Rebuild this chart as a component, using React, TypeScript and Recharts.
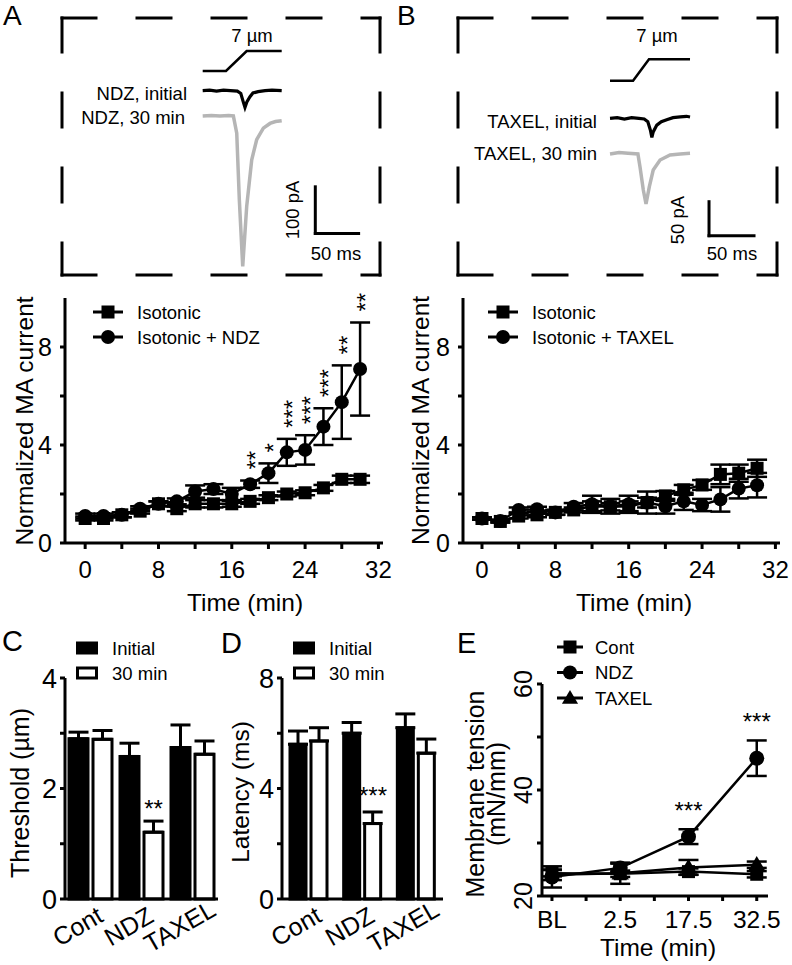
import React from 'react';
import {
  LineChart,
  Line,
  XAxis,
  YAxis,
  ErrorBar,
  LabelList,
  Legend,
  ReferenceLine,
  ComposedChart,
  Bar,
} from 'recharts';

const FONT = '"Liberation Sans", Arial, Helvetica, sans-serif';
const INK = '#000';
const GREY = '#b5b5b5';

// ---- A/B example traces (ms vs µm / pA) ----
const stimA_t = [0, 26.9, 50.8, 91.2];
const stimA_um = [0, 0, 7, 7];
const ndzInit_t = [0, 8, 16, 24, 32, 40, 44, 47, 48.8, 51, 54.6, 58, 64, 72, 80, 91.2];
const ndzInit_pA = [0, 1, -1, 1, 0, -1, -6, -25, -35.7, -24, -13, -5, -2, 0, 1, 0];
const ndz30_t = [0, 10, 20, 30, 35.4, 39.3, 42.3, 46.2, 50.8, 56.6, 62.3, 70, 77.7, 84, 91.2];
const ndz30_pA = [0, 1, 0, 1, 0, -37, -180, -323, -194, -94, -51, -26, -16, -12, -10];

const stimB_t = [0, 25.6, 43.3, 88.9];
const stimB_um = [0, 0, 7, 7];
const taxInit_t = [0, 8, 16, 24, 32, 38, 42, 45, 46.5, 48, 52, 57, 63, 70, 78, 85, 88.9];
const taxInit_pA = [0, 1, -1, 1, 0, -1, -5, -18, -28, -20, -10, -5, -2, 1, 2, 3, 2];
const tax30_t = [0, 10, 20, 31, 33.3, 37, 40, 43.7, 48, 55.6, 66.7, 78, 88.9];
const tax30_pA = [-1, 1, 0, -1, -19.7, -54, -74.6, -49, -24.6, -9.9, -2.5, -1, 0];

// ---- A/B time course ----
const minutes = [0, 2, 4, 6, 8, 10, 12, 14, 16, 18, 20, 22, 24, 26, 28, 30];
const isoA = [1.0, 1.0, 1.15, 1.3, 1.6, 1.4, 1.6, 1.6, 1.6, 1.7, 1.85, 2.0, 2.05, 2.25, 2.6, 2.6];
const isoAErr = [0.08, 0.08, 0.1, 0.1, 0.1, 0.1, 0.15, 0.15, 0.12, 0.1, 0.1, 0.1, 0.1, 0.12, 0.15, 0.15];
const ndzA = [1.1, 1.1, 1.15, 1.4, 1.6, 1.7, 2.1, 2.2, 2.0, 2.4, 2.85, 3.7, 3.8, 4.75, 5.75, 7.1];
const ndzAErr = [0.1, 0.1, 0.1, 0.1, 0.1, 0.12, 0.25, 0.2, 0.25, 0.15, 0.4, 0.55, 0.6, 0.75, 1.5, 1.9];
const sigA = ['', '', '', '', '', '', '', '', '', '**', '*', '***', '***', '***', '**', '**'];

const isoB = [1.0, 0.88, 1.1, 1.15, 1.25, 1.35, 1.5, 1.48, 1.5, 1.65, 1.92, 2.17, 2.37, 2.8, 2.85, 3.05];
const isoBErr = [0.05, 0.05, 0.1, 0.1, 0.1, 0.1, 0.2, 0.15, 0.2, 0.2, 0.2, 0.2, 0.2, 0.4, 0.35, 0.35];
const taxB = [1.0, 0.9, 1.35, 1.38, 1.25, 1.48, 1.58, 1.5, 1.58, 1.65, 1.5, 1.7, 1.55, 1.78, 2.22, 2.36];
const taxBErr = [0.05, 0.05, 0.1, 0.1, 0.1, 0.15, 0.35, 0.3, 0.35, 0.45, 0.3, 0.35, 0.25, 0.5, 0.4, 0.5];
const sigB = minutes.map(() => '');

// ---- C/D bars ----
const groups = ['Cont', 'NDZ', 'TAXEL'];
const thrInit = [2.9, 2.58, 2.74];
const thrInitErr = [0.12, 0.24, 0.41];
const thr30 = [2.89, 1.21, 2.62];
const thr30Err = [0.16, 0.2, 0.24];
const sigC = ['', '**', ''];
const latInit = [5.6, 6.0, 6.2];
const latInitErr = [0.48, 0.39, 0.5];
const lat30 = [5.72, 2.73, 5.28];
const lat30Err = [0.48, 0.42, 0.51];
const sigD = ['', '***', ''];

// ---- E membrane tension ----
const timeE = ['BL', '2.5', '17.5', '32.5'];
const contE = [24.3, 24.2, 24.6, 24.1];
const contEErr = [0.6, 0.6, 0.6, 0.6];
const ndzE = [23.6, 25.3, 31.2, 46.0];
const ndzEErr = [2.0, 0.8, 1.4, 3.35];
const taxE = [24.0, 24.3, 25.4, 25.9];
const taxEErr = [1.0, 2.0, 1.4, 0.6];
const sigE = ['', '', '***', '***'];

const pairs = (t: number[], v: number[]) => t.map((x, i) => ({ t: x, v: v[i] }));

const courseA = minutes.map((t, i) => ({
  t, iso: isoA[i], isoErr: isoAErr[i], trt: ndzA[i], trtErr: ndzAErr[i],
  top: ndzA[i] + ndzAErr[i], sig: sigA[i],
}));
const courseB = minutes.map((t, i) => ({
  t, iso: isoB[i], isoErr: isoBErr[i], trt: taxB[i], trtErr: taxBErr[i],
  top: taxB[i] + taxBErr[i], sig: sigB[i],
}));
const barsC = groups.map((g, i) => ({
  g, init: thrInit[i], initErr: [0, thrInitErr[i]], late: thr30[i], lateErr: [0, thr30Err[i]],
  top: thr30[i] + thr30Err[i], sig: sigC[i],
}));
const barsD = groups.map((g, i) => ({
  g, init: latInit[i], initErr: [0, latInitErr[i]], late: lat30[i], lateErr: [0, lat30Err[i]],
  top: lat30[i] + lat30Err[i], sig: sigD[i],
}));
const tensionE = timeE.map((_, i) => ({
  x: i, cont: contE[i], contErr: contEErr[i], ndz: ndzE[i], ndzErr: ndzEErr[i],
  tax: taxE[i], taxErr: taxEErr[i], top: ndzE[i] + ndzEErr[i], sig: sigE[i],
}));

const axisStyle = { stroke: INK, strokeWidth: 3 };

type Mark = 'square' | 'circle' | 'triangle' | 'solid' | 'open';

function drawMark(kind: Mark, cx: number, cy: number, s: number, key?: any) {
  if (kind === 'circle') return <circle key={key} cx={cx} cy={cy} r={s / 2} fill={INK} />;
  if (kind === 'triangle')
    return (
      <polygon
        key={key}
        points={`${cx},${cy - s * 0.62} ${cx + s * 0.62},${cy + s * 0.45} ${cx - s * 0.62},${cy + s * 0.45}`}
        fill={INK}
      />
    );
  return <rect key={key} x={cx - s / 2} y={cy - s / 2} width={s} height={s} fill={INK} />;
}

const dotOf = (kind: Mark, s: number) => (p: any) => {
  if (p.cx == null || p.cy == null) return <g key={p.index} />;
  return drawMark(kind, p.cx, p.cy, s, `${kind}-${p.index}`);
};

const legendBox = (rows: { label: string; mark: Mark }[], lineW: number, textX: number, gap = 25) => () => (
  <svg width={textX + 150} height={rows.length * gap + 4} style={{ overflow: 'visible', display: 'block' }}>
    {rows.map((r, i) => {
      const cy = 12 + i * gap;
      if (r.mark === 'solid' || r.mark === 'open') {
        return (
          <g key={r.label}>
            <rect x={1.5} y={cy - 5} width={lineW - 3} height={10} fill={r.mark === 'solid' ? INK : '#fff'} stroke={INK} strokeWidth={3} />
            <text x={textX} y={cy} dy="0.36em" fontSize={18.5} fill={INK} fontFamily={FONT}>{r.label}</text>
          </g>
        );
      }
      return (
        <g key={r.label}>
          <line x1={0} x2={lineW} y1={cy} y2={cy} stroke={INK} strokeWidth={3} />
          {drawMark(r.mark, lineW / 2, cy, r.mark === 'circle' ? 14 : 13)}
          <text x={textX} y={cy} dy="0.36em" fontSize={18.5} fill={INK} fontFamily={FONT}>{r.label}</text>
        </g>
      );
    })}
  </svg>
);

// stars stacked upward above the error bar (one rotated string)
const VStars = (p: any) => {
  const { x, y, value } = p;
  if (!value) return <g />;
  const bx = x + 14;
  const by = y - 11;
  return (
    <text x={bx} y={by} transform={`rotate(-90 ${bx} ${by})`} fontSize={24} fill={INK} fontFamily={FONT}>{value}</text>
  );
};

const hStars = (dx: number, lift: number) => (p: any) => {
  const { x, y, value } = p;
  if (!value) return <g />;
  return (
    <text x={x + dx} y={y - lift} textAnchor="middle" fontSize={24} fill={INK} fontFamily={FONT}>{value}</text>
  );
};

function TimeCourse({ data, width, yWidth, xMin, trtName }: any) {
  return (
    <LineChart width={width} height={340} data={data} margin={{ top: 13, right: 12, bottom: 0, left: 0 }}>
      <XAxis
        dataKey="t" type="number" domain={[xMin, 32.5]} allowDataOverflow
        ticks={[0, 4, 8, 12, 16, 20, 24, 28, 32]} interval={0}
        tickFormatter={(v: number) => (v % 8 === 0 ? String(v) : '')}
        height={82} tickSize={6} tickMargin={12}
        axisLine={axisStyle} tickLine={axisStyle} tick={{ fill: INK, fontSize: 24 }}
      />
      <YAxis
        type="number" domain={[0, 10]} ticks={[0, 2, 4, 6, 8]} interval={0}
        tickFormatter={(v: number) => (v % 4 === 0 ? String(v) : '')}
        width={yWidth} tickSize={5} tickMargin={8}
        axisLine={axisStyle} tickLine={axisStyle} tick={{ fill: INK, fontSize: 25 }}
      />
      <Legend
        layout="horizontal" verticalAlign="middle" align="center"
        wrapperStyle={{ left: 93, top: 15, width: 'auto' }}
        content={legendBox([{ label: 'Isotonic', mark: 'square' }, { label: trtName, mark: 'circle' }], 30, 44)}
      />
      <Line dataKey="trt" stroke={INK} strokeWidth={2.5} dot={dotOf('circle', 14)} activeDot={false} isAnimationActive={false}>
        <ErrorBar dataKey="trtErr" width={10} stroke={INK} strokeWidth={2.5} direction="y" />
      </Line>
      <Line dataKey="iso" stroke={INK} strokeWidth={2.5} dot={dotOf('square', 13)} activeDot={false} isAnimationActive={false}>
        <ErrorBar dataKey="isoErr" width={10} stroke={INK} strokeWidth={2.5} direction="y" />
      </Line>
      <Line dataKey="top" stroke="none" dot={false} activeDot={false} legendType="none" isAnimationActive={false}>
        <LabelList dataKey="sig" content={VStars} />
      </Line>
    </LineChart>
  );
}

const CatTick = (p: any) => {
  const cx = p.x - 13;
  const cy = p.y + 27;
  return (
    <text x={cx} y={cy} dy="0.36em" textAnchor="middle" transform={`rotate(-30 ${cx} ${cy})`} fontSize={25} fill={INK} fontFamily={FONT}>
      {p.payload.value}
    </text>
  );
};

function BarPanel({ data, width, yWidth, right, max, ticks, barSize, starLift }: any) {
  return (
    <ComposedChart width={width} height={345} data={data} barGap={5} margin={{ top: 58, right, bottom: 0, left: 0 }}>
      <XAxis dataKey="g" interval={0} height={66} tickSize={0} tickMargin={0} axisLine={axisStyle} tickLine={false} tick={CatTick} />
      <YAxis
        type="number" domain={[0, max]} ticks={ticks} interval={0}
        tickFormatter={(v: number) => (v % (max / 2) === 0 ? String(v) : '')}
        width={yWidth} tickSize={5} tickMargin={3}
        axisLine={axisStyle} tickLine={axisStyle} tick={{ fill: INK, fontSize: 27 }}
      />
      <Legend
        layout="horizontal" verticalAlign="middle" align="center"
        wrapperStyle={{ left: yWidth + 11, top: 16, width: 'auto' }}
        content={legendBox([{ label: 'Initial', mark: 'solid' }, { label: '30 min', mark: 'open' }], 22, 36)}
      />
      <Bar dataKey="init" fill={INK} stroke={INK} strokeWidth={3} barSize={barSize} isAnimationActive={false}>
        <ErrorBar dataKey="initErr" width={10} stroke={INK} strokeWidth={3} direction="y" />
      </Bar>
      <Bar dataKey="late" fill="#fff" stroke={INK} strokeWidth={3} barSize={barSize} isAnimationActive={false}>
        <ErrorBar dataKey="lateErr" width={10} stroke={INK} strokeWidth={3} direction="y" />
      </Bar>
      <Line dataKey="top" stroke="none" dot={false} activeDot={false} legendType="none" isAnimationActive={false}>
        <LabelList dataKey="sig" content={hStars((barSize + 5) / 2, starLift)} />
      </Line>
    </ComposedChart>
  );
}

const ETickX = (p: any) => {
  const v = p.payload.value;
  if (!Number.isInteger(v)) return <g />;
  return (
    <text x={p.x} y={p.y} dy="0.71em" textAnchor="middle" fontSize={24.5} fill={INK} fontFamily={FONT}>{timeE[v]}</text>
  );
};
const ETickY = (p: any) => {
  const v = p.payload.value;
  if (v % 20 !== 0) return <g />;
  return (
    <text x={p.x} y={p.y} textAnchor="middle" transform={`rotate(-90 ${p.x} ${p.y})`} fontSize={25} fill={INK} fontFamily={FONT}>{v}</text>
  );
};

function TracePanel({ width, xDomain, stimDomain, initDomain, lateDomain, stim, init, late, bar }: any) {
  return (
    <LineChart width={width} height={285} margin={{ top: 0, right: 0, bottom: 0, left: 0 }}>
      <XAxis type="number" dataKey="t" hide domain={xDomain} allowDataOverflow />
      <YAxis yAxisId="stim" hide domain={stimDomain} allowDataOverflow />
      <YAxis yAxisId="init" hide domain={initDomain} allowDataOverflow />
      <YAxis yAxisId="late" hide domain={lateDomain} allowDataOverflow />
      <Line data={stim} dataKey="v" yAxisId="stim" stroke={INK} strokeWidth={2.5} dot={false} activeDot={false} isAnimationActive={false} />
      <Line data={late} dataKey="v" yAxisId="late" stroke={GREY} strokeWidth={3.5} dot={false} activeDot={false} isAnimationActive={false} />
      <Line data={init} dataKey="v" yAxisId="init" stroke={INK} strokeWidth={3.2} dot={false} activeDot={false} isAnimationActive={false} />
      <ReferenceLine yAxisId="late" segment={[{ x: bar.x, y: bar.y }, { x: bar.x, y: bar.y + bar.pA }]} stroke={INK} strokeWidth={3} strokeLinecap="square" />
      <ReferenceLine yAxisId="late" segment={[{ x: bar.x, y: bar.y }, { x: bar.x + bar.ms, y: bar.y }]} stroke={INK} strokeWidth={3} strokeLinecap="square" />
    </LineChart>
  );
}

function DashedBox({ x1, x2, y1, y2 }: { x1: number; x2: number; y1: number; y2: number }) {
  const st = { stroke: INK, strokeWidth: 3, strokeDasharray: '34 41', strokeLinecap: 'square' as const };
  return (
    <g>
      <line x1={x1} y1={y1} x2={x2} y2={y1} {...st} />
      <line x1={x1} y1={y2} x2={x2} y2={y2} {...st} />
      <line x1={x1} y1={y1} x2={x1} y2={y2} {...st} />
      <line x1={x2} y1={y1} x2={x2} y2={y2} {...st} />
    </g>
  );
}

const abs = (left: number, top: number): React.CSSProperties => ({ position: 'absolute', left, top });

export default function App() {
  return (
    <div style={{ position: 'absolute', left: 0, top: 0, width: 792, height: 965, background: '#fff', fontFamily: FONT, overflow: 'hidden' }}>
      <div style={abs(0, 0)}>
        <TracePanel
          width={395} xDomain={[-234, 222]} stimDomain={[-74.9, 24.85]}
          initDomain={[-417, 194.6]} lateDomain={[-362.7, 248.9]}
          stim={pairs(stimA_t, stimA_um)} init={pairs(ndzInit_t, ndzInit_pA)} late={pairs(ndz30_t, ndz30_pA)}
          bar={{ x: 130, y: -252, pA: 100, ms: 50 }}
        />
      </div>
      <div style={abs(395, 0)}>
        <TracePanel
          width={397} xDomain={[-238.9, 202.2]} stimDomain={[-66.8, 26.4]}
          initDomain={[-245.1, 174]} lateDomain={[-193.7, 225.4]}
          stim={pairs(stimB_t, stimB_um)} init={pairs(taxInit_t, taxInit_pA)} late={pairs(tax30_t, tax30_pA)}
          bar={{ x: 110, y: -121.2, pA: 50, ms: 50 }}
        />
      </div>
      <div style={abs(0, 285)}>
        <TimeCourse data={courseA} width={395} yWidth={65} xMin={-2.2} trtName="Isotonic + NDZ" />
      </div>
      <div style={abs(395, 285)}>
        <TimeCourse data={courseB} width={397} yWidth={68} xMin={-2.07} trtName="Isotonic + TAXEL" />
      </div>
      <div style={abs(0, 620)}>
        <BarPanel data={barsC} width={225} yWidth={65} right={7} max={4} ticks={[0, 1, 2, 3, 4]} barSize={19} starLift={4} />
      </div>
      <div style={abs(205, 620)}>
        <BarPanel data={barsD} width={245} yWidth={77} right={7} max={8} ticks={[0, 2, 4, 6, 8]} barSize={16} starLift={8} />
      </div>
      <div style={abs(395, 620)}>
        <LineChart width={397} height={345} data={tensionE} margin={{ top: 64, right: 24, bottom: 0, left: 0 }}>
          <XAxis
            dataKey="x" type="number" domain={[-0.146, 3.165]} allowDataOverflow
            ticks={[0, 0.5, 1, 1.5, 2, 2.5, 3]} interval={0}
            height={69} tickSize={5} tickMargin={10}
            axisLine={axisStyle} tickLine={axisStyle} tick={ETickX}
          />
          <YAxis
            type="number" domain={[20, 60]} ticks={[20, 30, 40, 50, 60]} interval={0}
            width={147} tickSize={5} tickMargin={5}
            axisLine={axisStyle} tickLine={axisStyle} tick={ETickY}
          />
          <Legend
            layout="horizontal" verticalAlign="middle" align="center"
            wrapperStyle={{ left: 162, top: 15, width: 'auto' }}
            content={legendBox([
              { label: 'Cont', mark: 'square' },
              { label: 'NDZ', mark: 'circle' },
              { label: 'TAXEL', mark: 'triangle' },
            ], 26, 38, 25.5)}
          />
          <Line dataKey="cont" stroke={INK} strokeWidth={2.5} dot={dotOf('square', 13)} activeDot={false} isAnimationActive={false}>
            <ErrorBar dataKey="contErr" width={10} stroke={INK} strokeWidth={2.5} direction="y" />
          </Line>
          <Line dataKey="ndz" stroke={INK} strokeWidth={2.5} dot={dotOf('circle', 15)} activeDot={false} isAnimationActive={false}>
            <ErrorBar dataKey="ndzErr" width={10} stroke={INK} strokeWidth={2.5} direction="y" />
          </Line>
          <Line dataKey="tax" stroke={INK} strokeWidth={2.5} dot={dotOf('triangle', 14)} activeDot={false} isAnimationActive={false}>
            <ErrorBar dataKey="taxErr" width={10} stroke={INK} strokeWidth={2.5} direction="y" />
          </Line>
          <Line dataKey="top" stroke="none" dot={false} activeDot={false} legendType="none" isAnimationActive={false}>
            <LabelList dataKey="sig" content={hStars(0, 10)} />
          </Line>
        </LineChart>
      </div>

      <svg width={792} height={965} style={{ position: 'absolute', left: 0, top: 0, pointerEvents: 'none' }} fontFamily={FONT} fill={INK}>
        <DashedBox x1={62} x2={380} y1={18} y2={275} />
        <DashedBox x1={458} x2={777} y1={18} y2={275} />

        <text x={3} y={25} fontSize={28}>A</text>
        <text x={397} y={25} fontSize={28}>B</text>
        <text x={2} y={651} fontSize={29}>C</text>
        <text x={221} y={653} fontSize={29}>D</text>
        <text x={457} y={653} fontSize={29}>E</text>

        <text x={252} y={42} fontSize={18.5} textAnchor="middle">7 µm</text>
        <text x={187} y={100} fontSize={18.5} textAnchor="end">NDZ, initial</text>
        <text x={185} y={124} fontSize={18.5} textAnchor="end">NDZ, 30 min</text>
        <text x={299} y={210} fontSize={18.5} textAnchor="middle" transform="rotate(-90 299 210)">100 pA</text>
        <text x={336} y={260} fontSize={18.5} textAnchor="middle">50 ms</text>

        <text x={657} y={42} fontSize={18.5} textAnchor="middle">7 µm</text>
        <text x={597} y={128} fontSize={18.5} textAnchor="end">TAXEL, initial</text>
        <text x={597} y={160} fontSize={18.5} textAnchor="end">TAXEL, 30 min</text>
        <text x={684} y={220} fontSize={18.5} textAnchor="middle" transform="rotate(-90 684 220)">50 pA</text>
        <text x={732} y={260} fontSize={18.5} textAnchor="middle">50 ms</text>

        <text x={33} y={421} fontSize={24.5} textAnchor="middle" transform="rotate(-90 33 421)">Normalized MA current</text>
        <text x={428.5} y={420.5} fontSize={24.5} textAnchor="middle" transform="rotate(-90 428.5 420.5)">Normalized MA current</text>
        <text x={245} y={611} fontSize={24.5} textAnchor="middle">Time (min)</text>
        <text x={634} y={611} fontSize={24.5} textAnchor="middle">Time (min)</text>

        <text x={28.5} y={793} fontSize={25} textAnchor="middle" transform="rotate(-90 28.5 793)">Threshold (µm)</text>
        <text x={249} y={792} fontSize={24.5} textAnchor="middle" transform="rotate(-90 249 792)">Latency (ms)</text>
        <text x={484} y={794} fontSize={25} textAnchor="middle" transform="rotate(-90 484 794)">Membrane tension</text>
        <text x={505} y={794} fontSize={25} textAnchor="middle" transform="rotate(-90 505 794)">(mN/mm)</text>
        <text x={658} y={956} fontSize={24.5} textAnchor="middle">Time (min)</text>
      </svg>
    </div>
  );
}
